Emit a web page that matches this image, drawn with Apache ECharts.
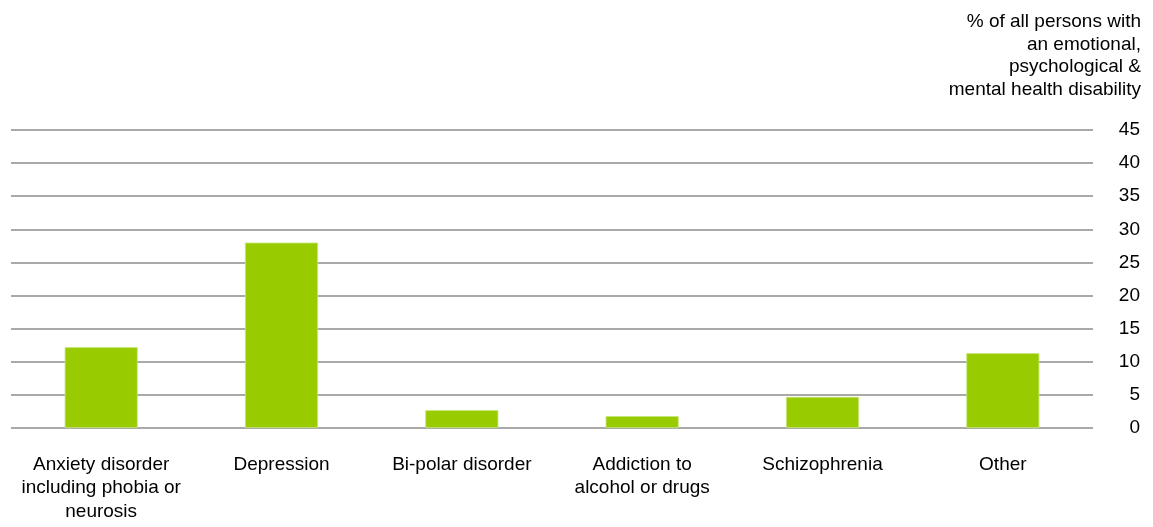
<!DOCTYPE html>
<html><head><meta charset="utf-8">
<script src="https://cdn.jsdelivr.net/npm/echarts@6/dist/echarts.min.js"></script>
<style>html,body{margin:0;padding:0;background:#fff}#c{width:1153px;height:527px}</style>
</head><body><div id="c"></div>
<script>
const categories = ["Anxiety disorder\nincluding phobia or\nneurosis", "Depression", "Bi-polar disorder", "Addiction to\nalcohol or drugs", "Schizophrenia", "Other"];
const values = [12.2, 28.0, 2.7, 1.8, 4.7, 11.3];
const yTitle = "% of all persons with\nan emotional,\npsychological &\nmental health disability";
const chart = echarts.init(document.getElementById('c'));
chart.setOption({
  animation: false,
  textStyle: {fontFamily: 'Liberation Sans, Arial, sans-serif'},
  title: {
    text: yTitle, left: 1136, top: 6, textAlign: 'right',
    textStyle: {fontSize: 19, fontWeight: 'normal', color: '#000', lineHeight: 22.5, align: 'right', fontFamily: 'Liberation Sans, Arial, sans-serif'}
  },
  grid: {left: 11, right: 60, top: 130, bottom: 99, containLabel: false},
  xAxis: {
    type: 'category', data: categories,
    axisLine: {show: false}, axisTick: {show: false},
    axisLabel: {color: '#000', fontSize: 19, lineHeight: 23.5, margin: 25, interval: 0}
  },
  yAxis: {
    type: 'value', position: 'right', min: 0, max: 45, interval: 5,
    axisLine: {show: false}, axisTick: {show: false},
    axisLabel: {color: '#000', fontSize: 19, align: 'right', margin: 47},
    splitLine: {lineStyle: {color: '#8c8c8c', width: 1.5}}
  },
  series: [{
    type: 'bar', data: values, barWidth: '40.5%',
    itemStyle: {color: '#99cc00', borderColor: '#c6e67a', borderWidth: 0.8},
    z: 1
  }]
});
</script></body></html>
